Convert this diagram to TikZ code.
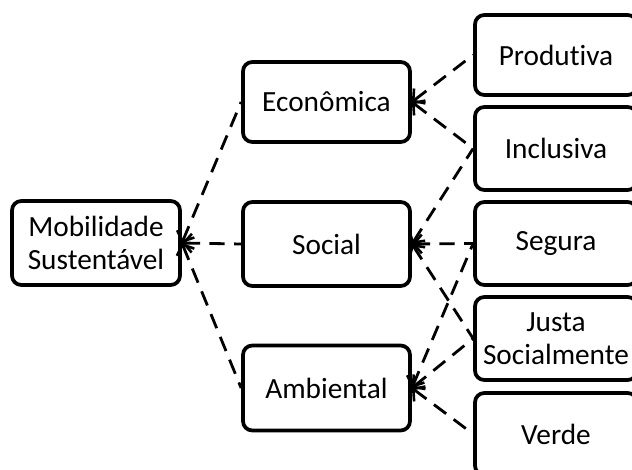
\documentclass[tikz,border=0pt]{standalone}
\usepackage{fontspec}
\setmainfont{Carlito}[Ligatures=NoCommon]
\usetikzlibrary{arrows.meta}

\begin{document}
\begin{tikzpicture}[x=0.03cm,y=-0.03cm,
  caixa/.style={draw,line width=3.2pt,rounded corners=8pt,fill=white,
    align=center,inner sep=0pt,font=\fontsize{25}{28}\selectfont},
  ligacao/.style={line width=2.4pt,dash pattern=on 13pt off 8pt},
  >={Straight Barb[length=7pt,width=16pt,line width=2.2pt]}]
\useasboundingbox (0,0) rectangle (632,470);
\clip (0,0) rectangle (632,470);

% raiz e pilares
\node[caixa,minimum width=168*0.03cm,minimum height=84*0.03cm] (mob) at (96,243) {Mobilidade\\Sustentável};
\node[caixa,minimum width=167*0.03cm,minimum height=80*0.03cm] (eco) at (326.5,102) {Econômica};
\node[caixa,minimum width=167*0.03cm,minimum height=84*0.03cm] (soc) at (326.5,244) {Social};
\node[caixa,minimum width=167*0.03cm,minimum height=85*0.03cm] (amb) at (326.5,388) {Ambiental};

% atributos (cortados na borda direita)
\node[caixa,minimum width=162*0.03cm,minimum height=80*0.03cm] (prod) at (556,55) {Produtiva};
\node[caixa,minimum width=162*0.03cm,minimum height=83*0.03cm] (incl) at (556,148.5) {Inclusiva};
\node[caixa,minimum width=162*0.03cm,minimum height=83*0.03cm] (seg) at (556,243.5) {Segura};
\node[caixa,minimum width=162*0.03cm,minimum height=83*0.03cm] (just) at (556,338.5) {Justa\\Socialmente};
\node[caixa,minimum width=162*0.03cm,minimum height=82*0.03cm] (verde) at (556,434) {Verde};

\draw[ligacao,<-] (mob.east) -- (eco.west);
\draw[ligacao,<-] (mob.east) -- (soc.west);
\draw[ligacao,<-] (mob.east) -- (amb.west);

\draw[ligacao,<-] (eco.east) -- (prod.west);
\draw[ligacao,<-] (eco.east) -- (incl.west);

\draw[ligacao,<-] (soc.east) -- (incl.west);
\draw[ligacao,<-] (soc.east) -- (seg.west);
\draw[ligacao,<-] (soc.east) -- (just.west);

\draw[ligacao,<-] (amb.east) -- (seg.west);
\draw[ligacao,<-] (amb.east) -- (just.west);
\draw[ligacao,<-] (amb.east) -- (verde.west);
\end{tikzpicture}
\end{document}
